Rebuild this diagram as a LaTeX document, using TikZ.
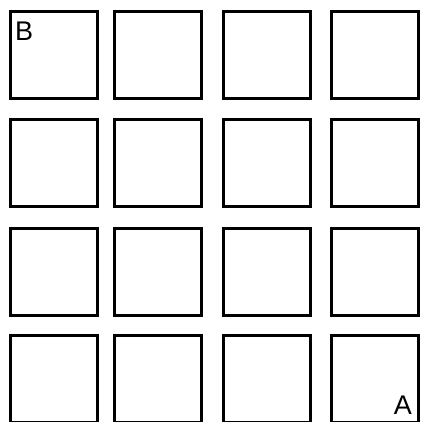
\documentclass[tikz,border=0pt]{standalone}
\usepackage{fontspec}
\setmainfont{Liberation Sans}
\begin{document}
\begin{tikzpicture}[x=1pt,y=-1pt,
  cell/.style={draw=black,line width=3pt,minimum width=87pt,minimum height=87pt,inner sep=0pt,anchor=north west},
  lbl/.style={font=\fontsize{27}{27}\selectfont,inner sep=0pt}]
\useasboundingbox (0,0) rectangle (420,422);
\foreach \c/\x in {1/9,2/113,3/222,4/330}{
  \foreach \r/\y in {1/10,2/118,3/227,4/334}{
    \node[cell] (s\r\c) at (\x,\y) {};
  }
}
\node[lbl,anchor=north west] (B) at ([shift={(6pt,-12pt)}]s11.north west) {B};
\node[lbl,anchor=south east] (A) at ([shift={(-8pt,9pt)}]s44.south east) {A};
\end{tikzpicture}
\end{document}
